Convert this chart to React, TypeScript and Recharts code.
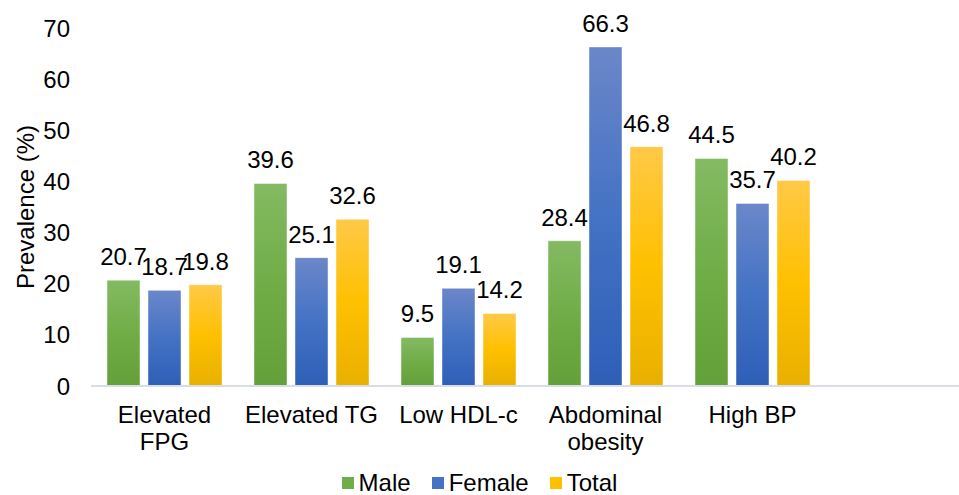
import React from "react"
import { BarChart, Bar, XAxis, YAxis, Legend, LabelList } from "recharts"

// categories (last slot is empty in the original figure)
const categories = ["Elevated\nFPG", "Elevated TG", "Low HDL-c", "Abdominal\nobesity", "High BP", ""]
const male = [20.7, 39.6, 9.5, 28.4, 44.5, null]
const female = [18.7, 25.1, 19.1, 66.3, 35.7, null]
const total = [19.8, 32.6, 14.2, 46.8, 40.2, null]
const yTicks = [0, 10, 20, 30, 40, 50, 60, 70]

const series = [
  { key: "male", name: "Male", swatch: "#70ad47", stops: ["#84ba63", "#70ad47", "#63a03a"] },
  { key: "female", name: "Female", swatch: "#4472c4", stops: ["#6b87c9", "#4472c4", "#2e5fb7"] },
  { key: "total", name: "Total", swatch: "#ffc000", stops: ["#ffc947", "#ffc000", "#e8b000"] },
]

const data = categories.map((c, i) => ({
  category: c,
  male: male[i],
  female: female[i],
  total: total[i],
}))

const FONT = "'Liberation Sans', Arial, sans-serif"
const FS = 24

function CategoryTick({ x, y, payload }: any) {
  const lines = String(payload.value).split("\n")
  return (
    <text x={x} y={y + 29} textAnchor="middle" fill="#000" fontSize={FS} fontFamily={FONT}>
      {lines.map((l, i) => (
        <tspan key={i} x={x} dy={i === 0 ? 0 : 27}>{l}</tspan>
      ))}
    </text>
  )
}

function LegendContent() {
  return (
    <div style={{ display: "flex", justifyContent: "center", alignItems: "center", fontFamily: FONT, fontSize: FS, color: "#000" }}>
      {series.map((s, i) => (
        <div key={s.key} style={{ display: "flex", alignItems: "center", marginLeft: i === 0 ? 0 : 21 }}>
          <span style={{ width: 12, height: 12, background: s.swatch, display: "inline-block", marginRight: 5 }} />
          <span>{s.name}</span>
        </div>
      ))}
    </div>
  )
}

export default function App() {
  return (
    <div style={{ position: "absolute", left: 0, top: 0, width: 959, height: 495, overflow: "hidden", background: "#fff" }}>
      <BarChart
        width={980}
        height={495}
        data={data}
        margin={{ top: 28, right: 7, left: 0, bottom: 0 }}
        barCategoryGap={16}
        barGap={8}
      >
        <defs>
          {series.map((s) => (
            <linearGradient key={s.key} id={`grad-${s.key}`} x1="0" y1="0" x2="0" y2="1">
              <stop offset="0%" stopColor={s.stops[0]} />
              <stop offset="50%" stopColor={s.stops[1]} />
              <stop offset="100%" stopColor={s.stops[2]} />
            </linearGradient>
          ))}
        </defs>
        <XAxis
          dataKey="category"
          height={109}
          tickLine={false}
          axisLine={{ stroke: "#d9dde6", strokeWidth: 2 }}
          tick={<CategoryTick />}
          interval={0}
        />
        <YAxis
          width={91}
          domain={[0, 70]}
          ticks={yTicks}
          axisLine={false}
          tickLine={false}
          tickMargin={15}
          tick={{ fill: "#000", fontSize: FS, fontFamily: FONT }}
          label={{
            value: "Prevalence (%)",
            angle: -90,
            position: "center",
            dx: -20,
            style: { fill: "#000", fontSize: FS, fontFamily: FONT, textAnchor: "middle" },
          }}
        />
        <Legend
          layout="horizontal"
          verticalAlign="middle"
          content={<LegendContent />}
          wrapperStyle={{ top: 469, left: 0, width: 959, height: 30 }}
        />
        {series.map((s) => (
          <Bar
            key={s.key}
            dataKey={s.key}
            name={s.name}
            fill={`url(#grad-${s.key})`}
            stroke="#ffffff"
            strokeOpacity={0.45}
            strokeWidth={1}
            isAnimationActive={false}
          >
            <LabelList
              dataKey={s.key}
              position="top"
              offset={15}
              style={{ fill: "#000", fontSize: FS, fontFamily: FONT }}
            />
          </Bar>
        ))}
      </BarChart>
    </div>
  )
}
